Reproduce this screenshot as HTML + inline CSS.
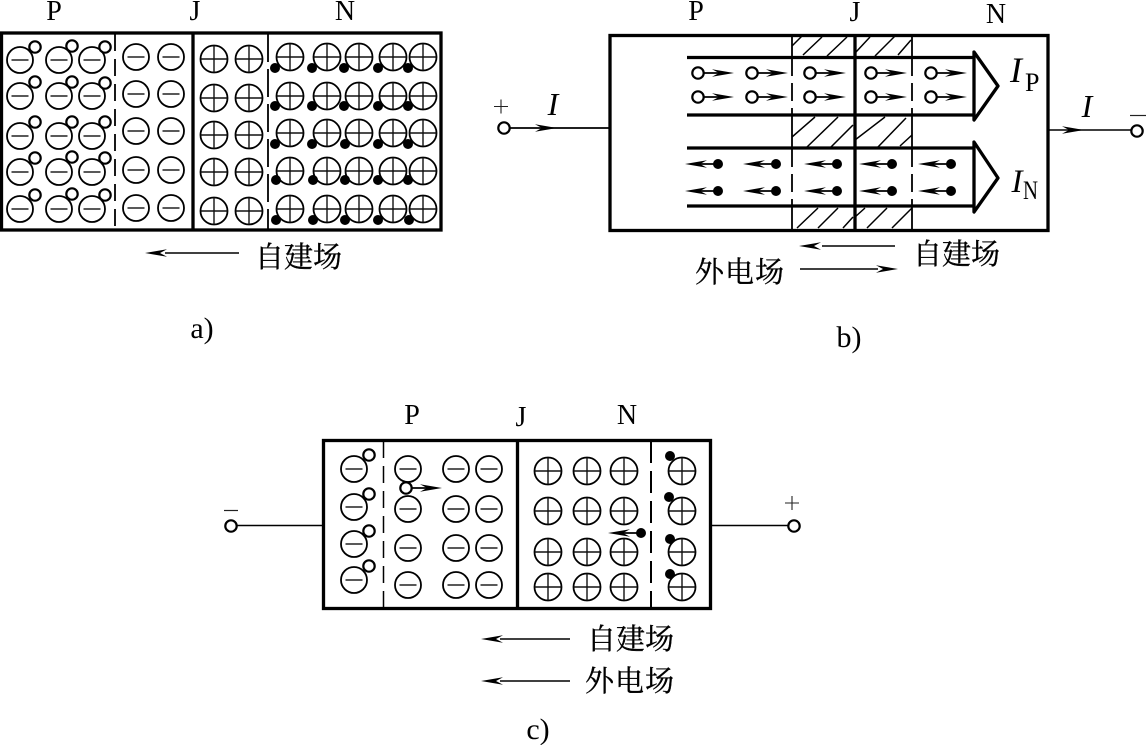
<!DOCTYPE html>
<html><head><meta charset="utf-8"><style>
html,body{margin:0;padding:0;background:#fff;width:1146px;height:745px;overflow:hidden}
svg{display:block}
.l{font-family:"Liberation Serif",serif;font-size:28px;fill:#000;text-anchor:middle}
.t{font-family:"Liberation Serif",serif;font-size:30px;fill:#000;text-anchor:middle}
.i{font-family:"Liberation Serif",serif;font-size:32px;font-style:italic;fill:#000;text-anchor:middle}
.s{font-family:"Liberation Serif",serif;font-size:26px;fill:#000}
.c{font-family:"Liberation Serif","Noto Serif CJK SC",serif;font-size:29px;fill:#000;stroke:#000;stroke-width:.35}
</style></head><body>
<svg width="1146" height="745" viewBox="0 0 1146 745" xmlns="http://www.w3.org/2000/svg">
<defs>
<g id="m"><circle r="13" fill="none" stroke="#000" stroke-width="1.8"/><path d="M-8.5 0H8.5" stroke="#222" stroke-width="1.5"/></g>
<g id="p"><circle r="13.5" fill="none" stroke="#000" stroke-width="1.8"/><path d="M-13.5 0H13.500M0 -13.500V13.500" stroke="#111" stroke-width="1.4"/></g>
<circle id="h" r="5.700" fill="#fff" stroke="#000" stroke-width="2.200"/>
<circle id="d" r="5" fill="#000"/>
<path id="ar" d="M0 0L-22 -3.800L-15 0L-22 3.800Z" fill="#000"/>
<path id="al" d="M0 0L22 -3.800L15 0L22 3.800Z" fill="#000"/>
<g id="ha"><path d="M6 0H30" stroke="#000" stroke-width="1.800"/><use href="#ar" x="36"/><use href="#h"/></g>
<g id="da"><path d="M-4 0H-26" stroke="#000" stroke-width="1.800"/><use href="#al" x="-33"/><use href="#d"/></g>
</defs>

<!-- panel a -->
<text class="l" x="54" y="20">P</text><text class="l" x="195" y="20">J</text><text class="l" x="345" y="20">N</text>
<rect x="1.500" y="33" width="439.500" height="197" fill="#fff" stroke="#000" stroke-width="3.300"/>
<path d="M193 33V230" stroke="#000" stroke-width="3.300"/>
<path d="M115 34V230" stroke="#000" stroke-width="1.800" stroke-dasharray="17 8"/>
<path d="M268 34V230" stroke="#000" stroke-width="1.800" stroke-dasharray="28 7"/>
<use href="#m" x="20" y="60"/><use href="#m" x="59" y="60"/><use href="#m" x="92" y="60"/>
<use href="#m" x="20" y="96"/><use href="#m" x="59" y="96"/><use href="#m" x="92" y="96"/>
<use href="#m" x="20" y="136"/><use href="#m" x="59" y="136"/><use href="#m" x="92" y="136"/>
<use href="#m" x="20" y="172"/><use href="#m" x="59" y="172"/><use href="#m" x="92" y="172"/>
<use href="#m" x="20" y="209"/><use href="#m" x="59" y="209"/><use href="#m" x="92" y="209"/>
<use href="#h" x="35" y="47"/><use href="#h" x="72" y="46"/><use href="#h" x="105" y="47"/>
<use href="#h" x="35" y="82"/><use href="#h" x="72" y="82"/><use href="#h" x="105" y="83"/>
<use href="#h" x="35" y="122"/><use href="#h" x="72" y="122"/><use href="#h" x="105" y="122"/>
<use href="#h" x="35" y="158"/><use href="#h" x="72" y="157"/><use href="#h" x="105" y="158"/>
<use href="#h" x="35" y="195"/><use href="#h" x="72" y="194"/><use href="#h" x="105" y="195"/>
<use href="#m" x="136" y="57"/><use href="#m" x="171" y="57"/>
<use href="#m" x="136" y="94"/><use href="#m" x="171" y="94"/>
<use href="#m" x="136" y="131"/><use href="#m" x="171" y="131"/>
<use href="#m" x="136" y="170"/><use href="#m" x="171" y="170"/>
<use href="#m" x="136" y="208"/><use href="#m" x="171" y="208"/>
<use href="#p" x="214" y="59"/><use href="#p" x="249" y="59"/>
<use href="#p" x="214" y="98"/><use href="#p" x="249" y="98"/>
<use href="#p" x="214" y="135"/><use href="#p" x="249" y="135"/>
<use href="#p" x="214" y="172"/><use href="#p" x="249" y="172"/>
<use href="#p" x="214" y="211"/><use href="#p" x="249" y="211"/>
<use href="#p" x="290" y="57"/><use href="#p" x="327" y="57"/><use href="#p" x="359" y="57"/><use href="#p" x="393" y="57"/><use href="#p" x="423" y="57"/>
<use href="#p" x="290" y="96"/><use href="#p" x="327" y="96"/><use href="#p" x="359" y="96"/><use href="#p" x="393" y="96"/><use href="#p" x="423" y="96"/>
<use href="#p" x="290" y="133"/><use href="#p" x="327" y="133"/><use href="#p" x="359" y="133"/><use href="#p" x="393" y="133"/><use href="#p" x="423" y="133"/>
<use href="#p" x="290" y="171"/><use href="#p" x="327" y="171"/><use href="#p" x="359" y="171"/><use href="#p" x="393" y="171"/><use href="#p" x="423" y="171"/>
<use href="#p" x="290" y="209"/><use href="#p" x="327" y="209"/><use href="#p" x="359" y="209"/><use href="#p" x="393" y="209"/><use href="#p" x="423" y="209"/>
<use href="#d" x="275" y="68"/><use href="#d" x="312" y="68"/><use href="#d" x="344" y="68"/><use href="#d" x="378" y="68"/><use href="#d" x="408" y="68"/>
<use href="#d" x="275" y="106"/><use href="#d" x="312" y="106"/><use href="#d" x="344" y="106"/><use href="#d" x="378" y="106"/><use href="#d" x="408" y="106"/>
<use href="#d" x="275" y="144"/><use href="#d" x="312" y="144"/><use href="#d" x="345" y="144"/><use href="#d" x="378" y="144"/><use href="#d" x="408" y="144"/>
<use href="#d" x="276" y="180"/><use href="#d" x="313" y="180"/><use href="#d" x="345" y="180"/><use href="#d" x="378" y="180"/><use href="#d" x="408" y="180"/>
<use href="#d" x="276" y="220"/><use href="#d" x="313" y="220"/><use href="#d" x="345" y="220"/><use href="#d" x="378" y="220"/><use href="#d" x="409" y="220"/>
<path d="M165 253H239" stroke="#000" stroke-width="1.600"/><use href="#al" x="145" y="253"/>
<text class="c" x="255" y="267" textLength="87">自建场</text>
<text class="t" x="202" y="338">a)</text>

<!-- panel b -->
<text class="l" x="696" y="20">P</text><text class="l" x="855" y="21">J</text><text class="l" x="996" y="23">N</text>
<rect x="610" y="35.500" width="438" height="195" fill="#fff" stroke="#000" stroke-width="3.300"/>
<path d="M803 55L822 37M827 56L847 37M792 46L802 36M856 52L870 37M875 56L895 36M898 55L911 40M792 137L815 117M807 147L838 117M831 147L853 125M855 140L885 117M878 147L906 118M900 146L912 135M797 228L818 208M818 228L838 208M843 228L853 217M855 217L865 208M867 228L887 208M892 228L912 208" stroke="#000" stroke-width="1.500" fill="none"/>
<path d="M792 58V114M792 149V205M912 58V114M912 149V205" stroke="#000" stroke-width="1.800" stroke-dasharray="18 7"/>
<path d="M792 35V58M792 114V149M792 205V230M912 35V58M912 114V149M912 205V230" stroke="#000" stroke-width="1.800"/>
<path d="M855 35V230" stroke="#000" stroke-width="3.300"/>
<path d="M687 57.500H974M687 115H974M687 148H974M687 206H974" stroke="#000" stroke-width="3.300" fill="none"/>
<path d="M974 52L998 86L974 120ZM974 142L998 178L974 212Z" fill="#fff" stroke="#000" stroke-width="3.300" stroke-linejoin="round"/>
<use href="#ha" x="698" y="73"/><use href="#ha" x="752" y="73"/><use href="#ha" x="810" y="73"/><use href="#ha" x="871" y="73"/><use href="#ha" x="931" y="73"/>
<use href="#ha" x="698" y="97"/><use href="#ha" x="752" y="97"/><use href="#ha" x="810" y="97"/><use href="#ha" x="871" y="97"/><use href="#ha" x="931" y="97"/>
<use href="#da" x="718" y="164"/><use href="#da" x="776" y="164"/><use href="#da" x="837" y="164"/><use href="#da" x="892" y="164"/><use href="#da" x="951" y="164"/>
<use href="#da" x="718" y="191"/><use href="#da" x="776" y="191"/><use href="#da" x="837" y="191"/><use href="#da" x="892" y="191"/><use href="#da" x="951" y="191"/>
<path d="M510 128H609" stroke="#000" stroke-width="1.800"/><use href="#ar" x="557" y="128"/><use href="#h" x="504" y="128"/>
<path d="M494 106.500H508M501 99.500V113.500" stroke="#222" stroke-width="1.100"/>
<text class="i" x="553" y="115">I</text>
<path d="M1049 130H1131" stroke="#000" stroke-width="1.600"/><use href="#ar" x="1084" y="130"/><use href="#h" x="1137" y="131"/>
<path d="M1130 115.500H1146" stroke="#222" stroke-width="1.200"/>
<text class="i" x="1087" y="117">I</text>
<text class="i" style="font-size:36px" x="1016" y="82">I</text><text class="s" x="1025" y="91">P</text>
<text class="i" style="font-size:33px" x="1017" y="192">I</text><text class="s" x="1023" y="199" textLength="15" lengthAdjust="spacingAndGlyphs">N</text>
<path d="M822 246H895" stroke="#000" stroke-width="1.600"/><use href="#al" x="799" y="246"/>
<path d="M800 269H878" stroke="#000" stroke-width="1.600"/><use href="#ar" x="898" y="269"/>
<text class="c" x="913" y="264" textLength="87">自建场</text>
<text class="c" x="695" y="282" textLength="89">外电场</text>
<text class="t" x="849" y="347">b)</text>

<!-- panel c -->
<text class="l" x="412" y="424">P</text><text class="l" x="521" y="426">J</text><text class="l" x="627" y="424">N</text>
<rect x="323.500" y="440.500" width="387" height="168" fill="#fff" stroke="#000" stroke-width="3.300"/>
<path d="M517.500 440V609" stroke="#000" stroke-width="3.300"/>
<path d="M383.500 441V609" stroke="#000" stroke-width="1.500" stroke-dasharray="17 8"/>
<path d="M651 441V609" stroke="#000" stroke-width="2" stroke-dasharray="22 8"/>
<use href="#m" x="354" y="469"/><use href="#m" x="354" y="507"/><use href="#m" x="354" y="544"/><use href="#m" x="354" y="580"/>
<use href="#h" x="369" y="455"/><use href="#h" x="369" y="494"/><use href="#h" x="369" y="531"/><use href="#h" x="369" y="566"/>
<use href="#m" x="408" y="469"/><use href="#m" x="456" y="469"/><use href="#m" x="489" y="469"/>
<use href="#m" x="408" y="509"/><use href="#m" x="456" y="509"/><use href="#m" x="489" y="509"/>
<use href="#m" x="408" y="548"/><use href="#m" x="456" y="548"/><use href="#m" x="489" y="548"/>
<use href="#m" x="408" y="585"/><use href="#m" x="456" y="585"/><use href="#m" x="489" y="585"/>
<use href="#ha" x="406" y="488"/>
<use href="#p" x="548" y="471"/><use href="#p" x="587" y="471"/><use href="#p" x="624" y="471"/><use href="#p" x="682" y="471"/>
<use href="#p" x="548" y="511"/><use href="#p" x="587" y="511"/><use href="#p" x="624" y="511"/><use href="#p" x="682" y="511"/>
<use href="#p" x="548" y="552"/><use href="#p" x="587" y="552"/><use href="#p" x="624" y="552"/><use href="#p" x="682" y="552"/>
<use href="#p" x="548" y="587"/><use href="#p" x="587" y="587"/><use href="#p" x="624" y="587"/><use href="#p" x="682" y="587"/>
<use href="#d" x="670" y="456"/><use href="#d" x="669" y="497"/><use href="#d" x="670" y="539"/><use href="#d" x="670" y="574"/>
<use href="#da" x="641" y="533"/>
<path d="M237 525.500H323" stroke="#000" stroke-width="1.600"/><use href="#h" x="231" y="526"/>
<path d="M224 510.500H238" stroke="#222" stroke-width="1.200"/>
<path d="M711 525.500H788" stroke="#000" stroke-width="1.600"/><use href="#h" x="794" y="526"/>
<path d="M785 503H799M792 496V510" stroke="#222" stroke-width="1.100"/>
<path d="M500 639H570" stroke="#000" stroke-width="1.600"/><use href="#al" x="481" y="639"/>
<path d="M500 681H570" stroke="#000" stroke-width="1.600"/><use href="#al" x="481" y="681"/>
<text class="c" x="587" y="649" textLength="87">自建场</text>
<text class="c" x="585" y="691" textLength="89">外电场</text>
<text class="t" x="538" y="739">c)</text>
</svg>
</body></html>
